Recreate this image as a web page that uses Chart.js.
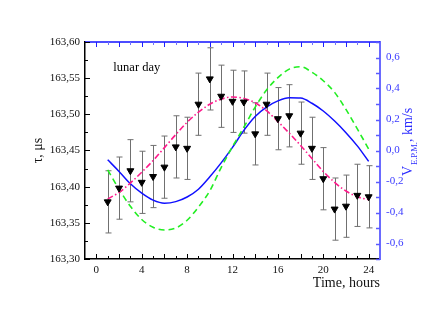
<!DOCTYPE html>
<html>
<head>
<meta charset="utf-8">
<script src="https://cdn.jsdelivr.net/npm/chart.js@4"></script>
<style>
  body { margin: 0; background: #fff; }
  canvas { display: block; }
</style>
</head>
<body>
<canvas id="lunarChart" width="421" height="325"></canvas>
<script>
// measured points (hours 1..24)
var hours = [1, 2, 3, 4, 5, 6, 7, 8, 9, 10, 11, 12, 13, 14, 15, 16, 17, 18, 19, 20, 21, 22, 23, 24];
var tau = [163.379, 163.398, 163.422, 163.406, 163.414, 163.427, 163.455, 163.453, 163.514, 163.549, 163.525, 163.518,
           163.517, 163.473, 163.514, 163.494, 163.498, 163.474, 163.453, 163.411, 163.369, 163.373, 163.388, 163.386];
var tauErr = [0.043, 0.043, 0.043, 0.043, 0.043, 0.043, 0.043, 0.043, 0.043, 0.043, 0.043, 0.043,
              0.043, 0.043, 0.043, 0.043, 0.043, 0.043, 0.043, 0.043, 0.043, 0.043, 0.043, 0.043];
// fitted curve (left axis)
var tauFit = [163.383, 163.392, 163.405, 163.420, 163.436, 163.454, 163.472, 163.489, 163.503, 163.514, 163.521, 163.524,
              163.522, 163.516, 163.505, 163.490, 163.474, 163.457, 163.439, 163.421, 163.406, 163.394, 163.386, 163.382];
// velocity curves (right axis)
var vGreen = [-0.125, -0.25, -0.36, -0.445, -0.495, -0.513, -0.50, -0.45, -0.365, -0.26, -0.11, 0.025,
              0.15, 0.28, 0.39, 0.47, 0.525, 0.54, 0.505, 0.45, 0.375, 0.265, 0.14, 0.01];
var vBlue = [-0.06, -0.135, -0.215, -0.275, -0.32, -0.34, -0.33, -0.30, -0.25, -0.17, -0.08, 0.02,
             0.13, 0.22, 0.28, 0.32, 0.34, 0.338, 0.305, 0.255, 0.19, 0.115, 0.03, -0.07];

var xTicks = [0, 4, 8, 12, 16, 20, 24];
var tauTicks = [163.30, 163.35, 163.40, 163.45, 163.50, 163.55, 163.60];
var vTicks = [-0.6, -0.4, -0.2, 0.0, 0.2, 0.4, 0.6];

var SERIF = "'Liberation Serif', 'DejaVu Serif', serif";

function pts(ys) {
  return hours.map(function (h, i) { return { x: h, y: ys[i] }; });
}
function comma(v, d) {
  return v.toFixed(d).replace('.', ',');
}

// error bars, inner tick marks, top border, labels
var extras = {
  id: 'extras',
  beforeDatasetsDraw: function (chart) {
    var ctx = chart.ctx, x = chart.scales.x, y = chart.scales.y;
    ctx.save();
    ctx.strokeStyle = '#707070';
    ctx.lineWidth = 1;
    for (var i = 0; i < hours.length; i++) {
      var px = Math.round(x.getPixelForValue(hours[i])) + 0.5;
      var top = y.getPixelForValue(tau[i] + tauErr[i]);
      var bot = y.getPixelForValue(tau[i] - tauErr[i]);
      ctx.beginPath();
      ctx.moveTo(px, top); ctx.lineTo(px, bot);
      ctx.moveTo(px - 3, top); ctx.lineTo(px + 3, top);
      ctx.moveTo(px - 3, bot); ctx.lineTo(px + 3, bot);
      ctx.stroke();
    }
    ctx.restore();
  },
  afterDraw: function (chart) {
    var ctx = chart.ctx, a = chart.chartArea;
    var x = chart.scales.x, y = chart.scales.y, y2 = chart.scales.y2;
    ctx.save();

    // top border
    ctx.strokeStyle = '#1010ff';
    ctx.lineWidth = 1.5;
    ctx.beginPath();
    ctx.moveTo(a.left, a.top); ctx.lineTo(a.right, a.top);
    ctx.stroke();

    // x ticks, bottom (black) and top (blue)
    for (var h = 0; h <= 24; h++) {
      var px = Math.round(x.getPixelForValue(h)) + 0.5;
      var len = h % 2 === 0 ? 5 : 3;
      ctx.lineWidth = 1;
      ctx.strokeStyle = '#000';
      ctx.beginPath(); ctx.moveTo(px, a.bottom); ctx.lineTo(px, a.bottom - len); ctx.stroke();
      ctx.strokeStyle = h % 2 === 0 ? '#2020ff' : '#7070ff';
      ctx.beginPath(); ctx.moveTo(px, a.top); ctx.lineTo(px, a.top + len); ctx.stroke();
    }

    // left ticks
    ctx.strokeStyle = '#000';
    for (var k = 0; k <= 12; k++) {
      var py = Math.round(y.getPixelForValue(163.30 + k * 0.025)) + 0.5;
      var l2 = k % 2 === 0 ? 5 : 3;
      ctx.beginPath(); ctx.moveTo(a.left, py); ctx.lineTo(a.left + l2, py); ctx.stroke();
    }

    // right ticks
    ctx.strokeStyle = '#5a5aff';
    ctx.lineWidth = 1.5;
    for (var m = -7; m <= 7; m++) {
      var py2 = Math.round(y2.getPixelForValue(m / 10)) + 0.5;
      ctx.beginPath(); ctx.moveTo(a.right, py2); ctx.lineTo(a.right - 4, py2); ctx.stroke();
    }

    // annotation
    ctx.fillStyle = '#000';
    ctx.font = '12.5px ' + SERIF;
    ctx.textAlign = 'left';
    ctx.textBaseline = 'middle';
    ctx.fillText('lunar day', x.getPixelForValue(1.5), y.getPixelForValue(163.564));

    // right axis title with subscript, reading upward
    ctx.translate(a.right + 32, y2.getPixelForValue(-0.165));
    ctx.rotate(-Math.PI / 2);
    ctx.fillStyle = '#2a2aff';
    ctx.textBaseline = 'alphabetic';
    ctx.font = '14px ' + SERIF;
    ctx.fillText('V', 0, 0);
    var vw = ctx.measureText('V').width;
    ctx.font = '8.5px ' + SERIF;
    ctx.fillText('E.P.M.', vw + 1, 5);
    var sw = ctx.measureText('E.P.M.').width;
    ctx.font = '14px ' + SERIF;
    ctx.fillText(', km/s', vw + sw + 1, 0);

    ctx.restore();
  }
};

var chartCanvas = document.getElementById('lunarChart').getContext('2d');
var lunarChart = new Chart(chartCanvas, {
  type: 'scatter',
  data: {
    datasets: [{
      label: 'tau',
      data: pts(tau),
      yAxisID: 'y',
      showLine: false,
      pointStyle: 'triangle',
      rotation: 180,
      pointRadius: 4,
      backgroundColor: '#000',
      borderColor: '#000',
      borderWidth: 1
    }, {
      label: 'fit',
      data: pts(tauFit),
      yAxisID: 'y',
      showLine: true,
      pointRadius: 0,
      borderColor: '#ff1a8c',
      borderWidth: 1.6,
      borderDash: [6, 2.5, 1.5, 2.5],
      cubicInterpolationMode: 'monotone'
    }, {
      label: 'green',
      data: pts(vGreen),
      yAxisID: 'y2',
      showLine: true,
      pointRadius: 0,
      borderColor: '#22ee22',
      borderWidth: 1.6,
      borderDash: [6, 4],
      cubicInterpolationMode: 'monotone'
    }, {
      label: 'blue',
      data: pts(vBlue),
      yAxisID: 'y2',
      showLine: true,
      pointRadius: 0,
      borderColor: '#1010ff',
      borderWidth: 1.5,
      cubicInterpolationMode: 'monotone'
    }]
  },
  options: {
    responsive: false,
    animation: false,
    layout: { padding: { top: 42, left: 0, right: 0, bottom: 0 } },
    plugins: { legend: { display: false }, tooltip: { enabled: false } },
    scales: {
      x: {
        type: 'linear',
        min: -1,
        max: 25,
        afterBuildTicks: function (s) { s.ticks = xTicks.map(function (v) { return { value: v }; }); },
        afterFit: function (s) { s.height = 66; },
        grid: { display: false, drawTicks: false },
        border: { display: true, color: '#000', width: 1.5 },
        ticks: { color: '#111', padding: 5, font: { family: SERIF, size: 11 }, maxRotation: 0 },
        title: {
          display: true,
          text: 'Time, hours',
          align: 'end',
          color: '#111',
          padding: { bottom: 33 },
          font: { family: SERIF, size: 14 }
        }
      },
      y: {
        position: 'left',
        min: 163.30,
        max: 163.60,
        afterBuildTicks: function (s) { s.ticks = tauTicks.map(function (v) { return { value: v }; }); },
        afterFit: function (s) { s.width = 85; },
        grid: { display: false, drawTicks: false },
        border: { display: true, color: '#000', width: 1.5 },
        ticks: {
          color: '#111',
          padding: 5,
          font: { family: SERIF, size: 11 },
          callback: function (v) { return comma(v, 2); }
        },
        title: {
          display: true,
          text: 'τ, μs',
          color: '#111',
          padding: { top: 30 },
          font: { family: SERIF, size: 14 }
        }
      },
      y2: {
        position: 'right',
        min: -0.7,
        max: 0.7,
        afterBuildTicks: function (s) { s.ticks = vTicks.map(function (v) { return { value: v }; }); },
        afterFit: function (s) { s.width = 41; },
        grid: { display: false, drawTicks: false },
        border: { display: true, color: '#6a6aff', width: 2 },
        ticks: {
          color: '#3a3aff',
          padding: 6,
          font: { family: SERIF, size: 11 },
          callback: function (v) { return comma(v, 1); }
        }
      }
    }
  },
  plugins: [extras]
});
</script>
</body>
</html>
